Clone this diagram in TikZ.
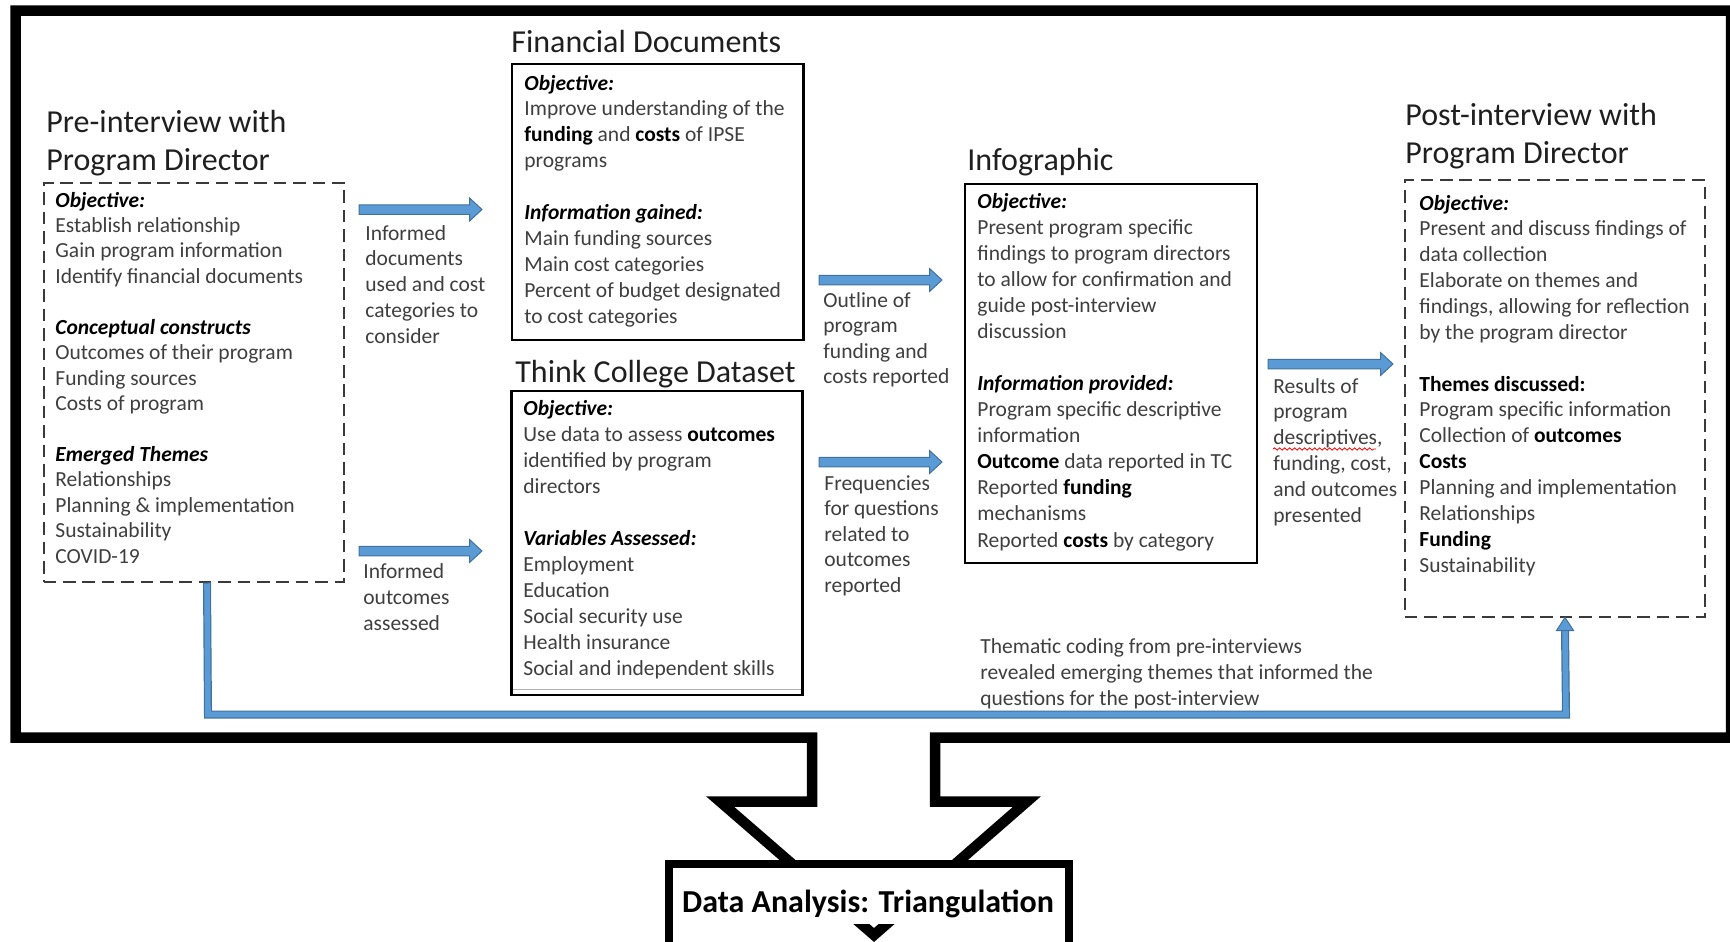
\documentclass[tikz,border=0pt]{standalone}
\usepackage{fontspec}
\setmainfont{Carlito}
\usetikzlibrary{calc,fit,decorations.pathmorphing}
\definecolor{bodytext}{HTML}{3F3F3F}
\definecolor{titletext}{HTML}{1F1F1F}
\definecolor{arrowfill}{HTML}{5B9BD5}
\definecolor{arrowedge}{HTML}{41719C}
\definecolor{dashcol}{HTML}{3A3A3A}
\newcommand\tblk[1]{\begin{minipage}[t]{250pt}\raggedright\leavevmode #1\end{minipage}}
\newcommand\hd[1]{{\color{black}\textbf{\textit{#1}}}}
\newcommand\bd[1]{{\color{black}\textbf{#1}}}
\newcommand\blankln{\\ \mbox{}\\}
\newcommand\barrow[2]{\filldraw[fill=arrowfill, draw=arrowedge, line width=0.5pt]
  ($(#1)+(0,-4.75)$) -- ($(#2)+(-12.5,-4.75)$) -- ($(#2)+(-12.5,-11.5)$) -- (#2)
  -- ($(#2)+(-12.5,11.5)$) -- ($(#2)+(-12.5,4.75)$) -- ($(#1)+(0,4.75)$) -- cycle;}
\tikzset{
  body/.style={anchor=base west, inner sep=0, text=bodytext, font=\fontsize{10.75pt}{12.9pt}\selectfont},
  ttl/.style={anchor=base west, inner sep=0, text=titletext, font=\fontsize{16pt}{19pt}\selectfont},
  solidbox/.style={draw=black, line width=1.4pt, inner sep=0},
  dashbox/.style={draw=dashcol, line width=1pt, dash pattern=on 6.35pt off 3.35pt, inner sep=0},
  frame/.style={draw=black, line width=5.25pt, line join=miter},
}
\begin{document}
\begin{tikzpicture}[x=0.5pt, y=-0.5pt, line join=miter]
\fill[white] (0,0) rectangle (1730,942);
\useasboundingbox (0,0) rectangle (1730,942);

% outer frame merged with big down arrow
\draw[frame] (812,737.5) -- (15.5,737.5) -- (15.5,10.5) -- (1731,10.5) -- (1731,737.5)
  -- (935,737.5) -- (935,801.5) -- (1027,801.5) -- (874,935) -- (720,801.5) -- (812,801.5) -- cycle;

% boxes
\node[dashbox, fit={(43.5,183) (344,581.5)}] (pre) {};
\node[solidbox, fit={(512,64) (803.5,340)}] (fin) {};
\node[solidbox, fit={(511.5,391) (802.5,695)}] (tc) {};
\draw[gray!60, line width=0.6pt] (513,689.5) -- (801,689.5);
\node[solidbox, fit={(965,184) (1257,563)}] (info) {};
\node[dashbox, fit={(1404.5,180) (1705,616.5)}] (post) {};

% titles
\node[ttl] (pretitle) at (46,132) {\tblk{Pre-interview with\\Program Director}};
\node[ttl] (fintitle) at (511,52) {Financial Documents};
\node[ttl] (tctitle) at (515,382) {Think College Dataset};
\node[ttl] (infotitle) at (967,170) {Infographic};
\node[ttl] (posttitle) at (1405,125) {\tblk{Post-interview with\\Program Director}};

% box texts
\node[body, font=\fontsize{10.75pt}{12.72pt}\selectfont] (pretext) at (55,207) {\tblk{%
\hd{Objective:}\\
Establish relationship\\
Gain program information\\
Identify financial documents\blankln
\hd{Conceptual constructs}\\
Outcomes of their program\\
Funding sources\\
Costs of program\blankln
\hd{Emerged Themes}\\
Relationships\\
Planning \& implementation\\
Sustainability\\
COVID-19}};

\node[body, font=\fontsize{10.75pt}{12.95pt}\selectfont] (fintext) at (524,90) {\tblk{%
\hd{Objective:}\\
Improve understanding of the\\
\bd{funding} and \bd{costs} of IPSE\\
programs\blankln
\hd{Information gained:}\\
Main funding sources\\
Main cost categories\\
Percent of budget designated\\
to cost categories}};

\node[body, font=\fontsize{10.75pt}{13pt}\selectfont] (tctext) at (523,415) {\tblk{%
\hd{Objective:}\\
Use data to assess \bd{outcomes}\\
identified by program\\
directors\blankln
\hd{Variables Assessed:}\\
Employment\\
Education\\
Social security use\\
Health insurance\\
Social and independent skills}};

\node[body, font=\fontsize{10.75pt}{13.04pt}\selectfont] (infotext) at (977,208) {\tblk{%
\hd{Objective:}\\
Present program specific\\
findings to program directors\\
to allow for confirmation and\\
guide post-interview\\
discussion\blankln
\hd{Information provided:}\\
Program specific descriptive\\
information\\
\bd{Outcome} data reported in TC\\
Reported \bd{funding}\\
mechanisms\\
Reported \bd{costs} by category}};

\node[body, font=\fontsize{10.75pt}{12.93pt}\selectfont] (posttext) at (1419,210) {\tblk{%
\hd{Objective:}\\
Present and discuss findings of\\
data collection\\
Elaborate on themes and\\
findings, allowing for reflection\\
by the program director\blankln
\bd{Themes discussed:}\\
Program specific information\\
Collection of \bd{outcomes}\\
\bd{Costs}\\
Planning and implementation\\
Relationships\\
\bd{Funding}\\
Sustainability}};

% block arrows between steps
\coordinate (a1s) at (359,209.5); \coordinate (a1e) at (482,209.5);
\coordinate (a2s) at (359,551);   \coordinate (a2e) at (482,551);
\coordinate (a3s) at (819,280);   \coordinate (a3e) at (942,280);
\coordinate (a4s) at (819,462);   \coordinate (a4e) at (942,462);
\coordinate (a5s) at (1268,364);  \coordinate (a5e) at (1393,364);
\barrow{a1s}{a1e}
\barrow{a2s}{a2e}
\barrow{a3s}{a3e}
\barrow{a4s}{a4e}
\barrow{a5s}{a5e}

% arrow labels
\node[body, font=\fontsize{10.75pt}{12.88pt}\selectfont] (lab1) at (365,240) {\tblk{Informed\\documents\\used and cost\\categories to\\consider}};
\node[body, font=\fontsize{10.75pt}{13pt}\selectfont] (lab2) at (363,578) {\tblk{Informed\\outcomes\\assessed}};
\node[body, font=\fontsize{10.75pt}{12.75pt}\selectfont] (lab3) at (823,307) {\tblk{Outline of\\program\\funding and\\costs reported}};
\node[body, font=\fontsize{10.75pt}{12.75pt}\selectfont] (lab4) at (824,490) {\tblk{Frequencies\\for questions\\related to\\outcomes\\reported}};
\node[body, font=\fontsize{10.75pt}{12.9pt}\selectfont] (lab5) at (1273,393) {\tblk{Results of\\program\\descriptives,\\funding, cost,\\and outcomes\\presented}};
\draw[red, line width=0.4pt, decorate, decoration={snake, amplitude=0.6pt, segment length=2.5pt}] (1273,449) -- (1376,449);

% L-shaped connector pre -> post
\path (pre.south west) ++(164.5,0) coordinate (lcA);
\path (post.south west) ++(161.5,0) coordinate (lcB);
\coordinate (lcC) at (208,714.5);
\coordinate (lcD) at (1566,714.5);
\draw[arrowedge, line width=4pt] (lcA) -- (lcC) -- (lcD) -- ($(lcB)+(0,13)$);
\draw[arrowfill, line width=2.8pt] ($(lcA)+(0,1)$) -- (lcC) -- (lcD) -- ($(lcB)+(0,12)$);
\filldraw[fill=arrowfill, draw=arrowedge, line width=0.5pt] ($(lcB)+(-8.5,13)$) -- (lcB) -- ($(lcB)+(8.5,13)$) -- cycle;
\node[body, font=\fontsize{10.75pt}{13pt}\selectfont] (thematic) at (980,653.5) {\tblk{Thematic coding from pre-interviews\\revealed emerging themes that informed the\\questions for the post-interview}};

% data analysis box
\node[draw=black, line width=4pt, fill=white, inner sep=0, fit={(669,864) (1069,975)}] (databox) {};
\begin{scope}
  \clip (780,924) rectangle (970,950);
  \draw[frame] (720,801.5) -- (874,935) -- (1027,801.5);
\end{scope}
\node[anchor=base, inner sep=0, font=\fontsize{16pt}{19pt}\selectfont\bfseries] (datatext) at (868,912) {Data Analysis: Triangulation};
\end{tikzpicture}
\end{document}
